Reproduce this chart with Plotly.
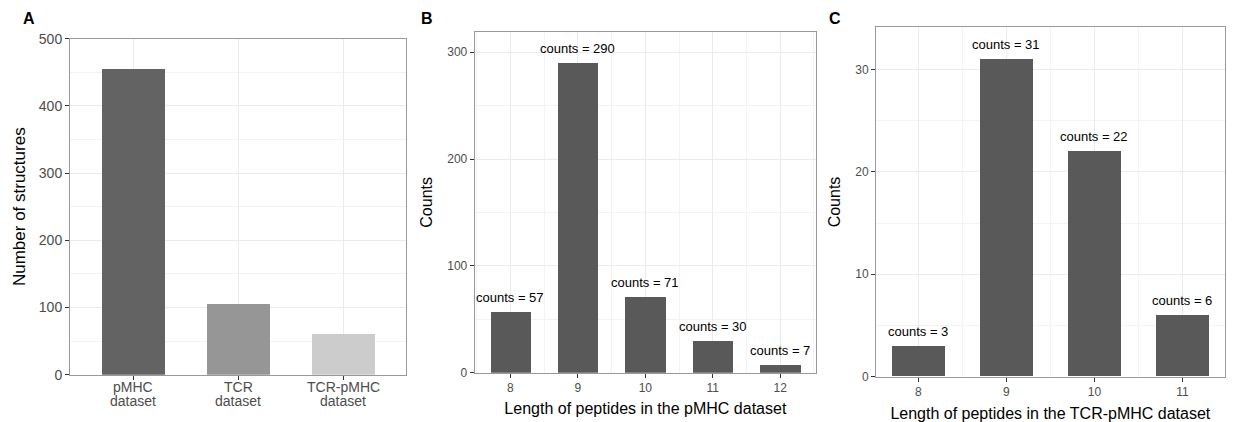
import plotly.graph_objects as go

# ---- data ----
a_categories = ["pMHC dataset", "TCR dataset", "TCR-pMHC dataset"]
a_label_lines = [("pMHC", "dataset"), ("TCR", "dataset"), ("TCR-pMHC", "dataset")]
a_values = [455, 105, 61]
a_colors = ["#636363", "#969696", "#cccccc"]

b_lengths = [8, 9, 10, 11, 12]
b_counts = [57, 290, 71, 30, 7]

c_lengths = [8, 9, 10, 11]
c_counts = [3, 31, 22, 6]

FONT = "Liberation Sans, Arial, sans-serif"
GRID = "#ebebeb"
BORDER = "#999999"
TICKC = "#4d4d4d"
BAR = "#595959"

fig = go.Figure()

fig.add_trace(go.Bar(x=a_categories, y=a_values, marker=dict(color=a_colors, line=dict(width=0)),
                     width=0.6, xaxis="x", yaxis="y", showlegend=False))
fig.add_trace(go.Bar(x=b_lengths, y=b_counts, marker=dict(color=BAR, line=dict(width=0)),
                     width=0.6, xaxis="x2", yaxis="y2", showlegend=False))
fig.add_trace(go.Bar(x=c_lengths, y=c_counts, marker=dict(color=BAR, line=dict(width=0)),
                     width=0.6, xaxis="x3", yaxis="y3", showlegend=False))

W, H = 1233, 422

def dom_x(l, r):
    return [l / W, r / W]

def dom_y(top, bottom):
    return [1 - bottom / H, 1 - top / H]

common = dict(showline=True, linecolor=BORDER, linewidth=1, mirror=True,
              ticks="outside", ticklen=4, tickcolor="#333333", tickwidth=1,
              showgrid=True, gridcolor=GRID, gridwidth=1, zeroline=False,
              automargin=False,
              tickfont=dict(family=FONT, color=TICKC, size=12),
              title_font=dict(family=FONT, color="#000000", size=16))

minor_c = dict(showgrid=True, gridcolor="#f3f3f3", gridwidth=0.6, ticks="")

layout = dict(
    width=W, height=H, margin=dict(l=0, r=0, t=0, b=0, autoexpand=False),
    paper_bgcolor="white", plot_bgcolor="white", bargap=0,
    font=dict(family=FONT),
    xaxis=dict(common, domain=dom_x(70, 406), anchor="y", range=[-0.6, 2.6],
               showticklabels=False),
    yaxis=dict(common, domain=dom_y(38.7, 374.7), anchor="x", range=[0, 500],
               tickvals=[0, 100, 200, 300, 400, 500],
               tickfont=dict(family=FONT, color=TICKC, size=14),
               minor=dict(minor_c, dtick=50, tick0=0),
               title=dict(text="Number of structures", standoff=8,
                          font=dict(family=FONT, color="#000000", size=17))),
    xaxis2=dict(common, domain=dom_x(474.7, 816), anchor="y2", range=[7.47, 12.53],
                tickvals=b_lengths,
                minor=dict(minor_c, dtick=1, tick0=8.5),
                title=dict(text="Length of peptides in the pMHC dataset", standoff=8)),
    yaxis2=dict(common, domain=dom_y(32, 372.7), anchor="x2", range=[0, 319],
                tickvals=[0, 100, 200, 300],
                minor=dict(minor_c, dtick=50, tick0=0),
                title=dict(text="Counts", standoff=10)),
    xaxis3=dict(common, domain=dom_x(876, 1224.7), anchor="y3", range=[7.52, 11.48],
                tickvals=c_lengths,
                minor=dict(minor_c, dtick=1, tick0=8.5),
                title=dict(text="Length of peptides in the TCR-pMHC dataset", standoff=10)),
    yaxis3=dict(common, domain=dom_y(27.3, 376.7), anchor="x3", range=[0, 34.1],
                tickvals=[0, 10, 20, 30],
                minor=dict(minor_c, dtick=5, tick0=0),
                title=dict(text="Counts", standoff=10)),
)
fig.update_layout(**layout)

annotations = []
# two-line category labels of panel A, placed under each category
for cat, (l1, l2) in zip(a_categories, a_label_lines):
    for txt, ypix in [(l1, 386.7), (l2, 401.2)]:
        annotations.append(dict(x=cat, y=1 - ypix / H, xref="x", yref="paper", text=txt,
                                showarrow=False, yanchor="middle", xanchor="center",
                                font=dict(family=FONT, size=14, color=TICKC)))
for xv, yv in zip(b_lengths, b_counts):
    annotations.append(dict(x=xv, y=yv, xref="x2", yref="y2", text=f"counts = {yv}",
                            showarrow=False, yanchor="bottom", yshift=5,
                            font=dict(family=FONT, size=13, color="#000000")))
for xv, yv in zip(c_lengths, c_counts):
    annotations.append(dict(x=xv, y=yv, xref="x3", yref="y3", text=f"counts = {yv}",
                            showarrow=False, yanchor="bottom", yshift=5,
                            font=dict(family=FONT, size=13, color="#000000")))
for letter, px in [("A", 21), ("B", 419), ("C", 827)]:
    annotations.append(dict(x=px / W, y=1 - 19 / H, xref="paper", yref="paper", text=f"<b>{letter}</b>",
                            showarrow=False, xanchor="left", yanchor="middle",
                            font=dict(family=FONT, size=16, color="#000000")))
fig.update_layout(annotations=annotations)

fig.write_html("out.html")
